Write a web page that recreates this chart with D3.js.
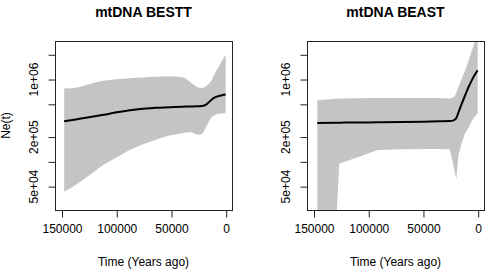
<!DOCTYPE html>
<html>
<head>
<meta charset="utf-8">
<script src="https://cdn.jsdelivr.net/npm/d3@7"></script>
<style>
body { margin: 0; background: #fff; }
text { font-family: "Liberation Sans", Arial, Helvetica, sans-serif; fill: #000; }
</style>
</head>
<body>
<div id="chart"></div>
<script>
// Ne(t) estimates (median and 95% band), time in years ago
const besttTime   = [148000, 136000, 124000, 112000, 100000, 88000, 76000, 64000, 52000, 40000, 32000, 26000, 22000, 18000, 14000, 10000, 6000, 2000, 500];
const besttMedian = [3.12e5, 3.3e5, 3.5e5, 3.73e5, 4.0e5, 4.24e5, 4.42e5, 4.55e5, 4.61e5, 4.68e5, 4.7e5, 4.74e5, 4.77e5, 5.0e5, 5.6e5, 6.1e5, 6.36e5, 6.54e5, 6.58e5];
const besttUpper  = [7.78e5, 8.0e5, 8.87e5, 9.64e5, 1.01e6, 1.04e6, 1.06e6, 1.08e6, 1.10e6, 1.066e6, 9.15e5, 8.06e5, 7.91e5, 8.4e5, 9.54e5, 1.21e6, 1.49e6, 1.85e6, 1.97e6];
const besttLower  = [4.33e4, 5.43e4, 7.0e4, 9.2e4, 1.14e5, 1.39e5, 1.64e5, 1.86e5, 2.09e5, 2.23e5, 2.29e5, 2.14e5, 2.2e5, 2.71e5, 3.39e5, 3.74e5, 3.84e5, 3.9e5, 3.9e5];

const beastTime   = [147000, 130000, 127000, 122000, 110000, 92000, 70000, 50000, 36000, 26000, 23000, 21000, 20000, 18000, 15000, 12000, 9000, 6000, 3000, 500];
const beastMedian = [2.97e5, 2.98e5, 2.99e5, 3.0e5, 3.01e5, 3.02e5, 3.04e5, 3.08e5, 3.11e5, 3.13e5, 3.17e5, 3.3e5, 3.4e5, 4.0e5, 5.1e5, 6.4e5, 8.0e5, 9.7e5, 1.15e6, 1.3e6];
const beastUpper  = [5.61e5, 5.85e5, 5.88e5, 5.9e5, 5.93e5, 5.96e5, 5.98e5, 5.98e5, 5.95e5, 5.9e5, 6.0e5, 6.4e5, 6.9e5, 8.1e5, 1.02e6, 1.28e6, 1.67e6, 2.2e6, 2.83e6, 3.35e6];
const beastLower  = [1.5e4, 1.5e4, 9.5e4, 1.0e5, 1.14e5, 1.39e5, 1.42e5, 1.43e5, 1.43e5, 1.42e5, 9.6e4, 7.1e4, 6.2e4, 1.21e5, 1.71e5, 2.23e5, 2.56e5, 3.12e5, 3.59e5, 3.9e5];

const timeTicks = [150000, 100000, 50000, 0];
const neTicks = [5e4, 1e5, 2e5, 5e5, 1e6, 2e6];
const neTickLabels = ["5e+04", "", "2e+05", "", "1e+06", ""];

const width = 488, height = 270;
const svg = d3.select("#chart").append("svg")
    .attr("width", width)
    .attr("height", height);

function drawPanel(p) {
    const top = 41, bottom = 210, left = p.left, right = p.left + 177;

    const x = d3.scaleLinear().domain([156400, -5300]).range([left, right]);
    const y = d3.scaleLog().domain([2.6e4, 2.94e6]).range([bottom, top]);

    const g = svg.append("g");

    g.append("clipPath").attr("id", p.id)
     .append("rect")
     .attr("x", left).attr("y", top)
     .attr("width", right - left).attr("height", bottom - top);

    const rows = p.time.map((t, i) => ({t: t, m: p.median[i], hi: p.upper[i], lo: p.lower[i]}));

    const band = d3.area()
        .x(d => x(d.t))
        .y0(d => y(d.lo))
        .y1(d => y(d.hi))
        .curve(p.bandCurve);

    g.append("path")
     .datum(rows)
     .attr("clip-path", `url(#${p.id})`)
     .attr("d", band)
     .attr("fill", "#c4c4c4");

    const line = d3.line()
        .x(d => x(d.t))
        .y(d => y(d.m))
        .curve(d3.curveMonotoneX);

    g.append("path")
     .datum(rows)
     .attr("clip-path", `url(#${p.id})`)
     .attr("d", line)
     .attr("fill", "none")
     .attr("stroke", "#000")
     .attr("stroke-width", 2);

    // plot box
    g.append("rect")
     .attr("x", left + 0.5).attr("y", top + 0.5)
     .attr("width", right - left).attr("height", bottom - top)
     .attr("fill", "none")
     .attr("stroke", "#222")
     .attr("stroke-width", 1);

    // x axis
    const xAxis = g.append("g")
        .attr("transform", `translate(0,${bottom + 0.5})`)
        .call(d3.axisBottom(x).tickValues(timeTicks).tickSize(7).tickPadding(7).tickFormat(d3.format("d")));
    xAxis.select(".domain").remove();
    xAxis.selectAll("line").attr("stroke", "#222");
    xAxis.selectAll("text")
        .attr("font-size", 12)
        .attr("font-family", "Liberation Sans, Arial, sans-serif")
        .attr("fill", "#000");

    // y axis (log), labels rotated as in R
    const yAxis = g.append("g")
        .attr("transform", `translate(${left + 0.5},0)`)
        .call(d3.axisLeft(y).tickValues(neTicks).tickSize(7).tickFormat(""));
    yAxis.select(".domain").remove();
    yAxis.selectAll("line").attr("stroke", "#222");

    g.selectAll(".ylab")
     .data(neTicks.map((v, i) => ({v: v, label: neTickLabels[i]})).filter(d => d.label))
     .enter().append("text")
     .attr("class", "ylab")
     .attr("transform", d => `translate(${left - 17},${y(d.v)}) rotate(-90)`)
     .attr("text-anchor", "middle")
     .attr("font-size", 12)
     .text(d => d.label);

    // titles
    g.append("text")
     .attr("x", (left + right) / 2).attr("y", 17)
     .attr("text-anchor", "middle")
     .attr("font-size", 14)
     .attr("font-weight", "bold")
     .text(p.title);

    g.append("text")
     .attr("x", (left + right) / 2).attr("y", 266)
     .attr("text-anchor", "middle")
     .attr("font-size", 12)
     .text("Time (Years ago)");

    if (p.ylab) {
        g.append("text")
         .attr("transform", `translate(10,${(top + bottom) / 2}) rotate(-90)`)
         .attr("text-anchor", "middle")
         .attr("font-size", 12)
         .text(p.ylab);
    }
}

drawPanel({id: "clipA", left: 55, title: "mtDNA BESTT", ylab: "Ne(t)",
    time: besttTime, median: besttMedian, upper: besttUpper, lower: besttLower,
    bandCurve: d3.curveMonotoneX});

drawPanel({id: "clipB", left: 307, title: "mtDNA BEAST", ylab: null,
    time: beastTime, median: beastMedian, upper: beastUpper, lower: beastLower,
    bandCurve: d3.curveLinear});
</script>
</body>
</html>
